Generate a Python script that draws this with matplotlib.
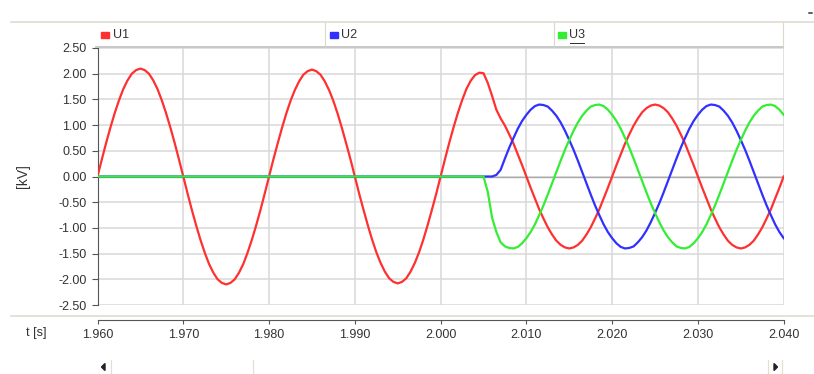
import numpy as np
import matplotlib
matplotlib.use("Agg")
import matplotlib.pyplot as plt
from matplotlib.lines import Line2D
from matplotlib.patches import Rectangle, Polygon
from matplotlib.ticker import MultipleLocator, FormatStrFormatter

plt.rcParams['font.family'] = ['Liberation Sans', 'DejaVu Sans']

# --- data, one sample every 0.5 ms ---
t_u1 = np.round(np.arange(1.960, 2.04025, 0.0005), 4)
u1 = [
    # 1.960 - 1.9795
    0.00, 0.33, 0.65, 0.95, 1.23, 1.48, 1.70, 1.87, 2.00, 2.07,
    2.10, 2.07, 2.00, 1.87, 1.70, 1.48, 1.23, 0.95, 0.65, 0.33,
    0.00, -0.33, -0.65, -0.95, -1.23, -1.48, -1.70, -1.87, -2.00, -2.07,
    -2.10, -2.07, -2.00, -1.87, -1.70, -1.48, -1.23, -0.95, -0.65, -0.33,
    # 1.980 - 1.9995
    0.00, 0.33, 0.64, 0.94, 1.22, 1.47, 1.68, 1.85, 1.98, 2.05,
    2.08, 2.05, 1.98, 1.85, 1.68, 1.47, 1.22, 0.94, 0.64, 0.33,
    0.00, -0.33, -0.64, -0.94, -1.22, -1.47, -1.68, -1.85, -1.98, -2.05,
    -2.08, -2.05, -1.98, -1.85, -1.68, -1.47, -1.22, -0.94, -0.64, -0.33,
    # 2.000 - 2.0065 (switching)
    0.00, 0.33, 0.65, 0.95, 1.23, 1.48, 1.70, 1.86, 1.97, 2.02,
    2.01, 1.82, 1.57, 1.30,
    # 2.007 - 2.040
    1.13, 0.99, 0.82, 0.64, 0.43, 0.22,
    0.00, -0.22, -0.43, -0.64, -0.82, -0.99, -1.13, -1.25, -1.33, -1.38,
    -1.40, -1.38, -1.33, -1.25, -1.13, -0.99, -0.82, -0.64, -0.43, -0.22,
    0.00, 0.22, 0.43, 0.64, 0.82, 0.99, 1.13, 1.25, 1.33, 1.38,
    1.40, 1.38, 1.33, 1.25, 1.13, 0.99, 0.82, 0.64, 0.43, 0.22,
    0.00, -0.22, -0.43, -0.64, -0.82, -0.99, -1.13, -1.25, -1.33, -1.38,
    -1.40, -1.38, -1.33, -1.25, -1.13, -0.99, -0.82, -0.64, -0.43, -0.22,
    0.00]

t_u2 = [1.960, 2.006] + list(np.round(np.arange(2.0065, 2.04025, 0.0005), 4))
u2 = [
    0.00, 0.00, 0.03,
    0.13, 0.35, 0.56, 0.75, 0.93, 1.08, 1.20, 1.30, 1.37, 1.40,
    1.39, 1.36, 1.28, 1.18, 1.05, 0.89, 0.71, 0.52, 0.31, 0.09,
    -0.13, -0.35, -0.56, -0.75, -0.93, -1.08, -1.20, -1.30, -1.37, -1.40,
    -1.39, -1.36, -1.28, -1.18, -1.05, -0.89, -0.71, -0.52, -0.31, -0.09,
    0.13, 0.35, 0.56, 0.75, 0.93, 1.08, 1.20, 1.30, 1.37, 1.40,
    1.39, 1.36, 1.28, 1.18, 1.05, 0.89, 0.71, 0.52, 0.31, 0.09,
    -0.13, -0.35, -0.56, -0.75, -0.93, -1.08, -1.20]

t_u3 = [1.960] + list(np.round(np.arange(2.005, 2.04025, 0.0005), 4))
u3 = [
    0.00, 0.00, -0.30, -0.80, -1.08,
    -1.28, -1.36, -1.39, -1.40, -1.37, -1.30, -1.20, -1.08, -0.93, -0.75,
    -0.56, -0.35, -0.13, 0.09, 0.31, 0.52, 0.71, 0.89, 1.05, 1.18,
    1.28, 1.36, 1.39, 1.40, 1.37, 1.30, 1.20, 1.08, 0.93, 0.75,
    0.56, 0.35, 0.13, -0.09, -0.31, -0.52, -0.71, -0.89, -1.05, -1.18,
    -1.28, -1.36, -1.39, -1.40, -1.37, -1.30, -1.20, -1.08, -0.93, -0.75,
    -0.56, -0.35, -0.13, 0.09, 0.31, 0.52, 0.71, 0.89, 1.05, 1.18,
    1.28, 1.36, 1.39, 1.40, 1.37, 1.30, 1.20]

series_names = ['U1', 'U2', 'U3']
series_colors = ['#ff3030', '#3030ff', '#33ee33']

W, H = 814, 374


def fx(x):
    return x / W


def fy(y):
    return 1 - y / H


def hline(fig, x0, x1, y, color, lw_px):
    fig.add_artist(Line2D([fx(x0), fx(x1)], [fy(y), fy(y)], color=color,
                          lw=lw_px * 0.72, transform=fig.transFigure))


def vline(fig, x, y0, y1, color, lw_px):
    fig.add_artist(Line2D([fx(x), fx(x)], [fy(y0), fy(y1)], color=color,
                          lw=lw_px * 0.72, transform=fig.transFigure))


fig = plt.figure(figsize=(W / 100, H / 100), dpi=100)
ax = fig.add_axes([fx(97.5), fy(305), fx(783.7) - fx(97.5), fy(48) - fy(305)])

ax.set_xlim(1.960, 2.040)
ax.set_ylim(-2.5, 2.5)
ax.xaxis.set_major_locator(MultipleLocator(0.01))
ax.xaxis.set_major_formatter(FormatStrFormatter('%.3f'))
ax.yaxis.set_major_locator(MultipleLocator(0.5))
ax.yaxis.set_major_formatter(FormatStrFormatter('%.2f'))

ax.grid(True, color='#d9d9d9', lw=1.1, zorder=0)
ax.axhline(0, color='#a9a9a9', lw=1.0, zorder=1)
ax.set_axisbelow(True)

for t, u, c in zip([t_u1, t_u2, t_u3], [u1, u2, u3], series_colors):
    ax.plot(t, u, color=c, lw=1.6, zorder=3)

for s in ['top', 'right']:
    ax.spines[s].set_visible(False)
ax.spines['left'].set_color('#555555')
ax.spines['bottom'].set_color('#555555')
ax.spines['bottom'].set_position(('outward', 11))
ax.tick_params(axis='y', direction='out', length=4, color='#555555',
               labelsize=9, labelcolor='#333333', pad=4)
ax.tick_params(axis='x', direction='out', length=3, color='#555555',
               labelsize=9, labelcolor='#333333', pad=3.5)

fig.text(fx(23), fy(176), '[kV]', rotation=90, ha='center', va='center',
         fontsize=10, color='#333333')
fig.text(fx(26), fy(333), 't [s]', ha='left', va='center', fontsize=9,
         color='#333333')

# frame lines of the chart control
hline(fig, 11, 814, 22, '#dcd8cc', 1.5)
hline(fig, 96, 783, 46.8, '#c8c8c8', 2)
hline(fig, 11, 814, 316, '#dcd8cc', 1.5)
for x in [324.5, 554, 782.5]:
    vline(fig, x, 23, 46, '#dcd8cc', 1.2)

# legend
leg_x = [101, 330, 557.5]
for x, name, c in zip(leg_x, series_names, series_colors):
    fig.add_artist(Rectangle((fx(x), fy(37.8)), 8 / W, 6 / H, color=c,
                             transform=fig.transFigure))
    fig.text(fx(x + 11.5), fy(35), name, ha='left', va='center',
             fontsize=9, color='#333333')
hline(fig, 569.5, 583.5, 43.3, '#333333', 1)

# small mark top right
hline(fig, 809, 811.5, 13, '#333333', 1.5)

# scrollbar
for x in [110.7, 252.7, 768, 782]:
    vline(fig, x, 360, 374, '#e6dfcf', 1.2)
fig.add_artist(Polygon([(fx(101.5), fy(367)), (fx(105), fy(363.5)),
                        (fx(105), fy(370.5))], closed=True, color='#222222',
                       transform=fig.transFigure))
fig.add_artist(Polygon([(fx(774), fy(363.5)), (fx(774), fy(370.5)),
                        (fx(777.5), fy(367))], closed=True, color='#222222',
                       transform=fig.transFigure))

fig.savefig('out.png', dpi=100)
